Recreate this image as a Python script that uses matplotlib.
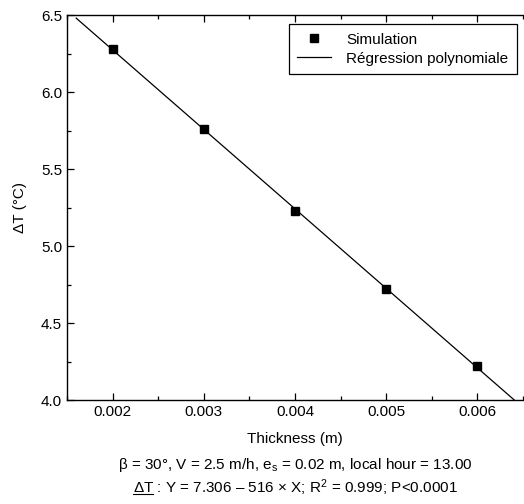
import matplotlib
matplotlib.use("Agg")
import matplotlib.pyplot as plt
import numpy as np
from matplotlib.ticker import MultipleLocator
from matplotlib.lines import Line2D

plt.rcParams['font.family'] = ['Liberation Sans', 'DejaVu Sans']
plt.rcParams['mathtext.fontset'] = 'custom'
plt.rcParams['mathtext.rm'] = 'Liberation Sans'
plt.rcParams['mathtext.it'] = 'Liberation Sans:italic'

thickness = [0.002, 0.003, 0.004, 0.005, 0.006]
delta_t = [6.28, 5.76, 5.23, 4.72, 4.22]
intercept = 7.306
slope = -516
fit_x = [0.0016, 0.00641]

FS = 11

fig = plt.figure(figsize=(5.24, 5.04), dpi=100)
ax = fig.add_axes([0.128, 0.206, 0.87, 0.764])

fx = np.array(fit_x)
ax.plot(fx, intercept + slope * fx, color='black', lw=0.9, label='Régression polynomiale')
ax.plot(thickness, delta_t, 's', color='black', ms=5.5, label='Simulation', linestyle='none')

ax.set_xlim(0.0015, 0.0065)
ax.set_ylim(4.0, 6.5)
ax.xaxis.set_minor_locator(MultipleLocator(0.0005))
ax.yaxis.set_minor_locator(MultipleLocator(0.25))
ax.set_xticks(thickness)
ax.set_xticklabels(['0.002', '0.003', '0.004', '0.005', '0.006'])
ax.set_yticks([4.0, 4.5, 5.0, 5.5, 6.0, 6.5])
ax.set_yticklabels(['4.0', '4.5', '5.0', '5.5', '6.0', '6.5'])
ax.tick_params(which='major', direction='in', length=5, width=0.9, labelsize=FS, top=True, right=False, pad=3.5)
ax.tick_params(which='minor', direction='in', length=3, width=0.9, top=True, right=False)
ax.spines['right'].set_visible(False)
for s in ['left', 'top', 'bottom']:
    ax.spines[s].set_linewidth(1.0)

ax.set_xlabel('Thickness (m)', fontsize=FS, labelpad=9)
ax.set_ylabel('ΔT (°C)', fontsize=FS, labelpad=10)

handles, labels = ax.get_legend_handles_labels()
leg = ax.legend([handles[1], handles[0]], [labels[1], labels[0]],
                loc='upper right', bbox_to_anchor=(0.986, 0.976), fontsize=FS,
                frameon=True, fancybox=False, edgecolor='black', framealpha=1,
                borderpad=0.55, labelspacing=0.32, handlelength=2.2, handletextpad=1.0,
                borderaxespad=0.0)
leg.get_frame().set_linewidth(0.9)

cx = 0.5 + 0.064
fig.text(cx, 1 - 465/504, r'β = 30°, V = 2.5 m/h, e$_\mathrm{s}$ = 0.02 m, local hour = 13.00',
         ha='center', va='center', fontsize=FS)
line2 = fig.text(cx, 1 - 488/504, r'ΔT : Y = 7.306 – 516 × X; R$^\mathrm{2}$ = 0.999; P<0.0001',
                 ha='center', va='center', fontsize=FS)
fig.canvas.draw()
r = fig.canvas.get_renderer()
bb = line2.get_window_extent(r)
tmp = fig.text(0, 0, 'ΔT', fontsize=FS)
wb = tmp.get_window_extent(r)
tmp.remove()
W, H = fig.bbox.width, fig.bbox.height
x0 = bb.x0 / W
x1 = (bb.x0 + wb.width) / W
yline = (1 - 488/504) - 6.0 / H
fig.add_artist(Line2D([x0, x1], [yline, yline], transform=fig.transFigure, color='black', lw=0.8))

fig.savefig('out.png', dpi=100)
